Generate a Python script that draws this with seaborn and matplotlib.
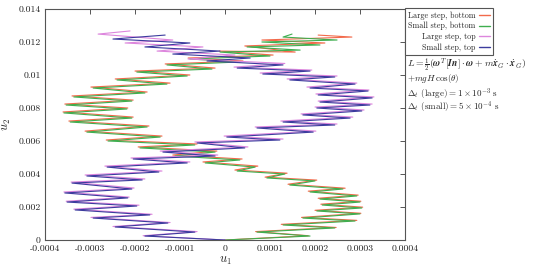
import numpy as np
import pandas as pd
import matplotlib
matplotlib.use("Agg")
import matplotlib.pyplot as plt
import seaborn as sns

# --- Data (u1 in units of 1e-4, u2 in units of 1e-3) ---
# small step, bottom (green)
bot_small_u1 = [0.00, 1.89, 0.71, 2.44, 1.29, 2.89, 1.73, 3.00, 2.04, 3.04, 2.16, 3.00,
                2.11, 2.93, 1.89, 2.62, 1.44, 2.00, 0.93, 1.33, 0.27, 0.67, -0.44, 0.33,
                -1.11, -0.22, -1.89, -0.67, -2.60, -1.44, -3.07, -1.73, -3.44, -2.07, -3.58,
                -2.18, -3.53, -2.07, -3.36, -1.78, -2.93, -1.29, -2.40, -0.84, -1.96, -0.29,
                -1.29, 0.33, -0.78, 1.00, -0.11, 1.67, 0.49, 2.11, 0.82, 2.49, 1.29, 1.49]
bot_small_u2 = [0.00, 0.24, 0.48, 0.73, 0.91, 1.15, 1.33, 1.58, 1.76, 1.94, 2.12, 2.30,
                2.48, 2.67, 2.91, 3.09, 3.33, 3.58, 3.76, 4.00, 4.18, 4.42, 4.67, 4.85,
                5.09, 5.33, 5.58, 5.76, 6.00, 6.24, 6.54, 6.85, 7.15, 7.39, 7.70,
                7.94, 8.18, 8.42, 8.67, 8.91, 9.21, 9.45, 9.70, 9.94, 10.18, 10.36,
                10.61, 10.79, 10.97, 11.15, 11.39, 11.51, 11.70, 11.82, 12.00, 12.12, 12.30, 12.48]

# large step, bottom (red)
bot_large_u1 = [0.00, 1.85, 0.68, 2.47, 1.25, 2.93, 1.70, 3.02, 2.00, 3.06, 2.13, 3.02,
                2.07, 2.96, 1.85, 2.67, 1.40, 2.04, 0.89, 1.38, 0.22, 0.73, -0.49, 0.38,
                -1.16, -0.18, -1.93, -0.62, -2.64, -1.40, -3.11, -1.69, -3.47, -2.04, -3.60,
                -2.16, -3.56, -2.04, -3.40, -1.73, -2.98, -1.22, -2.44, -0.78, -2.00, -0.22,
                -1.33, 0.40, -0.82, 1.07, -0.13, 1.56, 0.44, 2.22, 0.82, 2.82, 2.07]
bot_large_u2 = [0.00, 0.26, 0.51, 0.76, 0.95, 1.19, 1.37, 1.62, 1.80, 1.99, 2.17, 2.35,
                2.53, 2.72, 2.96, 3.14, 3.38, 3.63, 3.81, 4.05, 4.24, 4.48, 4.73, 4.91,
                5.15, 5.39, 5.64, 5.82, 6.06, 6.30, 6.60, 6.91, 7.21, 7.45, 7.76,
                8.00, 8.24, 8.48, 8.73, 8.97, 9.27, 9.51, 9.76, 10.00, 10.24, 10.42,
                10.67, 10.85, 11.03, 11.21, 11.45, 11.39, 11.76, 11.94, 12.12, 12.30, 12.42]

# small step, top (blue)
top_small_u1 = [0.00, -1.78, -0.67, -2.44, -1.27, -2.93, -1.67, -3.33, -1.96, -3.51, -2.16,
                -3.56, -2.07, -3.40, -1.84, -3.07, -1.47, -2.62, -0.84, -2.04, -0.22, -1.38,
                0.44, -0.62, 1.22, 0.04, 1.96, 0.71, 2.44, 1.29, 2.78, 1.73, 3.04, 2.04,
                3.22, 2.11, 3.27, 2.07, 3.18, 1.89, 2.89, 1.44, 2.44, 0.84, 1.89, 0.27,
                1.29, -0.40, 0.56, -1.16, -0.11, -1.78, -0.78, -2.49, -1.33]
top_small_u2 = [0.00, 0.24, 0.48, 0.79, 1.03, 1.33, 1.52, 1.82, 2.06, 2.30, 2.55,
                2.85, 3.09, 3.45, 3.64, 3.88, 4.12, 4.42, 4.67, 4.91, 5.09, 5.33,
                5.58, 5.88, 6.06, 6.24, 6.54, 6.79, 6.97, 7.15, 7.39, 7.58, 7.82, 8.00,
                8.18, 8.36, 8.61, 8.79, 9.03, 9.21, 9.45, 9.70, 9.88, 10.06, 10.24, 10.42,
                10.61, 10.85, 11.03, 11.27, 11.45, 11.70, 11.94, 12.18, 12.42]

# large step, top (pink)
top_large_u1 = [0.00, -1.82, -0.62, -2.49, -1.22, -2.98, -1.62, -3.36, -1.91, -3.53, -2.13,
                -3.58, -2.02, -3.42, -1.78, -3.11, -1.40, -2.67, -0.78, -2.09, -0.16, -1.44,
                0.51, -0.67, 1.29, -0.02, 2.02, 0.67, 2.49, 1.24, 2.84, 1.69, 3.09, 2.00,
                3.27, 2.07, 3.31, 2.02, 3.20, 1.82, 2.93, 1.38, 2.49, 0.78, 1.93, 0.20,
                1.33, -0.82, 0.22, -1.51, -0.49, -2.22, -1.16, -2.82, -2.11]
top_large_u2 = [0.00, 0.26, 0.51, 0.82, 1.06, 1.37, 1.56, 1.87, 2.11, 2.35, 2.60,
                2.91, 3.15, 3.51, 3.70, 3.94, 4.18, 4.48, 4.73, 4.97, 5.15, 5.39,
                5.64, 5.94, 6.12, 6.30, 6.60, 6.85, 7.03, 7.21, 7.45, 7.64, 7.88, 8.06,
                8.24, 8.42, 8.67, 8.85, 9.09, 9.27, 9.51, 9.76, 9.94, 10.12, 10.30, 10.48,
                10.70, 10.97, 11.21, 11.45, 11.70, 11.94, 12.12, 12.48, 12.67]

series_labels = ["Large step, bottom", "Small step, bottom", "Large step, top", "Small step, top"]
series_colors = ["#f26a4b", "#3fae4f", "#dd86dd", "#3c3c9e"]

x_ticks = [-4, -3, -2, -1, 0, 1, 2, 3, 4]
x_tick_labels = ["-0.0004", "-0.0003", "-0.0002", "-0.0001", "0", "0.0001", "0.0002", "0.0003", "0.0004"]
y_ticks = [0, 2, 4, 6, 8, 10, 12, 14]
y_tick_labels = ["0", "0.002", "0.004", "0.006", "0.008", "0.01", "0.012", "0.014"]

# --- Build long table ---
parts = []
for lab, u1, u2 in [(series_labels[0], bot_large_u1, bot_large_u2),
                    (series_labels[1], bot_small_u1, bot_small_u2),
                    (series_labels[2], top_large_u1, top_large_u2),
                    (series_labels[3], top_small_u1, top_small_u2)]:
    parts.append(pd.DataFrame({"u1": np.array(u1) * 1e-4, "u2": np.array(u2) * 1e-3, "series": lab}))
df = pd.concat(parts, ignore_index=True)

sns.set_theme(style="white")
plt.rcParams["font.family"] = ["serif"]
plt.rcParams["font.serif"] = ["cmr10"]
plt.rcParams["mathtext.fontset"] = "cm"
plt.rcParams["axes.unicode_minus"] = False
plt.rcParams["axes.formatter.use_mathtext"] = True

fig = plt.figure(figsize=(5.44, 2.69), dpi=100)
ax = fig.add_axes([45 / 544, 29 / 269, 360 / 544, 231 / 269])

sns.lineplot(data=df, x="u1", y="u2", hue="series", hue_order=series_labels,
             palette=dict(zip(series_labels, series_colors)), sort=False,
             estimator=None, linewidth=0.8, legend=False, ax=ax)

ax.set_xlim(-4e-4, 4e-4)
ax.set_ylim(0, 0.014)
ax.set_xticks(np.array(x_ticks) * 1e-4)
ax.set_xticklabels(x_tick_labels)
ax.set_yticks(np.array(y_ticks) * 1e-3)
ax.set_yticklabels(y_tick_labels)
ax.tick_params(direction="in", top=True, right=True, length=3.5, width=0.7,
               color="#555555", labelsize=7, pad=3, labelcolor="#222222")
for s in ax.spines.values():
    s.set_color("#555555")
    s.set_linewidth(0.8)
ax.set_xlabel(r"$u_1$", fontsize=9, labelpad=2)
ax.set_ylabel(r"$u_2$", fontsize=9, labelpad=4)

handles = ax.lines[:4]
leg = ax.legend(handles, series_labels, loc="upper left",
                bbox_to_anchor=(405 / 544, 1 - 8 / 269), bbox_transform=fig.transFigure,
                markerfirst=False, frameon=True, fancybox=False, framealpha=1,
                edgecolor="#555555", fontsize=5.8, handlelength=1.4, handletextpad=0.4,
                labelspacing=0.3, borderpad=0.4, borderaxespad=0)
leg.get_frame().set_linewidth(0.8)
for ln in leg.get_lines():
    ln.set_linewidth(1.0)

# energy expression and time steps, right of the axes
fig.text(407 / 544, 1 - 65 / 269,
         r"$L=\frac{1}{2}(\boldsymbol{\omega}^T[\boldsymbol{In}]\cdot\boldsymbol{\omega}"
         r"+m\dot{\boldsymbol{x}}_G\cdot\dot{\boldsymbol{x}}_G)$",
         fontsize=7.0, va="center", ha="left")
fig.text(407 / 544, 1 - 79 / 269, r"$+mgH\,\cos(\theta)$", fontsize=6.5, va="center", ha="left")
fig.text(407 / 544, 1 - 101 / 269,
         "$\\Delta_t$ (large)$=1\\times10^{-3}$ s\n$\\Delta_t$ (small)$=5\\times10^{-4}$ s",
         fontsize=6.5, va="center", ha="left", linespacing=0.72)

fig.savefig("out.png", dpi=100)
